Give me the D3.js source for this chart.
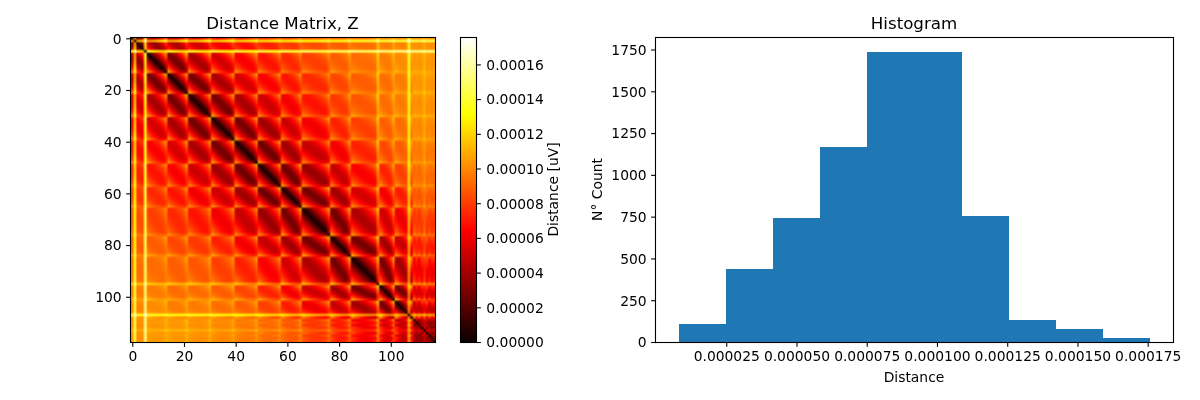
<!DOCTYPE html>
<html>
<head>
<meta charset="utf-8">
<script src="https://cdnjs.cloudflare.com/ajax/libs/d3/7.8.5/d3.min.js"></script>
<style>
  html, body { margin: 0; padding: 0; background: #fff; }
  #wrap { position: relative; width: 1200px; height: 400px; overflow: hidden; }
  canvas { position: absolute; }
  svg { position: absolute; left: 0; top: 0; }
  text { font-family: "DejaVu Sans", sans-serif; fill: #000; }
</style>
</head>
<body>
<div id="wrap"></div>
<script>
// Electrode rows: how many channels each row holds, in channel order.
const rowSizes = [6, 8, 8, 9, 9, 9, 9, 8, 11, 8, 11, 6, 7, 9];

// Estimated row-to-row distance (1e-6 uV), lower triangle, one line per row.
const rowLevels = [
  [12],
  [35, 0],
  [42, 26, 0],
  [52, 40, 26, 0],
  [60, 52, 40, 26, 0],
  [66, 62, 52, 40, 26, 0],
  [72, 68, 62, 50, 38, 24, 0],
  [78, 74, 68, 60, 50, 38, 24, 0],
  [84, 80, 74, 68, 60, 48, 36, 26, 0],
  [88, 88, 82, 78, 72, 60, 48, 38, 26, 0],
  [92, 92, 88, 86, 80, 72, 62, 52, 42, 26, 0],
  [96, 96, 92, 92, 88, 82, 72, 60, 50, 38, 26, 0],
  [98, 100, 96, 96, 92, 88, 80, 70, 58, 48, 38, 24, 0],
  [100, 102, 102, 100, 98, 94, 90, 85, 76, 68, 58, 50, 42, 20]
];

// Estimated spread across a row pair (per unit of alongRow), by row separation.
const spreadByGap = [48, 48, 44, 41, 38, 34, 30, 28, 25, 22, 22, 20, 20, 20];

// Estimated position of each channel along its row, from -1 to 1.
const alongRow = [
  -0.5, -0.9, -0.3, 0, 0.3, 0.6,
  -1, -0.72, -0.43, -0.14, 0.14, 0.43, 0.72, 1,
  -1, -0.7, -0.42, -0.14, 0.14, 0.42, 0.72, 1,
  -1, -0.75, -0.5, -0.25, 0, 0.25, 0.5, 0.75, 1,
  -1, -0.76, -0.5, -0.25, 0, 0.25, 0.5, 0.76, 1,
  -1, -0.75, -0.5, -0.25, 0, 0.25, 0.5, 0.75, 1,
  -1, -0.75, -0.5, -0.25, 0, 0.25, 0.5, 0.75, 1,
  -1, -0.72, -0.43, -0.14, 0.14, 0.43, 0.72, 1,
  -1, -0.8, -0.6, -0.4, -0.2, 0, 0.2, 0.4, 0.6, 0.8, 1,
  -1, -0.72, -0.43, -0.14, 0.14, 0.43, 0.72, 1,
  -1, -0.8, -0.6, -0.4, -0.2, 0, 0.2, 0.4, 0.6, 0.8, 1,
  -1, -0.6, -0.2, 0.2, 0.6, 1,
  -1, -0.67, -0.33, 0, 0.33, 0.67, 1,
  -0.6, 0.1, -0.4, 0.3, -0.1, 0.5, -0.2, 0.3, 0
];

// Estimated excess of each channel over its row (1e-6 uV); end-of-row
// channels and the noisy ones stand out as bright lines.
const channelExcess = [
  20, 100, 8, 6, 12, 115,
  10, 5, 4, 4, 4, 4, 5, 28,
  12, 5, 4, 4, 4, 4, 6, 32,
  10, 5, 4, 4, 4, 4, 4, 6, 36,
  10, 5, 4, 4, 4, 4, 4, 6, 30,
  8, 5, 4, 4, 4, 4, 4, 6, 30,
  8, 5, 4, 4, 4, 4, 4, 6, 28,
  8, 5, 4, 4, 4, 4, 6, 32,
  6, 4, 4, 4, 4, 4, 4, 4, 5, 8, 36,
  6, 4, 4, 4, 4, 5, 8, 38,
  6, 4, 4, 4, 4, 4, 4, 5, 6, 12, 65,
  10, 5, 5, 6, 10, 40,
  10, 6, 5, 6, 22, 90, 24,
  15, 22, 8, 18, 42, 12, 20, 8, 22
];

// Histogram of the upper-triangle distances.
const histCounts = [106, 436, 740, 1166, 1737, 1738, 752, 130, 76, 22];
const histMin = 8.2e-6;
const histMax = 175.8e-6;

const heatTicks = [0, 20, 40, 60, 80, 100];
const colorbarTicks = [0, 2e-5, 4e-5, 6e-5, 8e-5, 10e-5, 12e-5, 14e-5, 16e-5];
const histXTicks = [25e-6, 50e-6, 75e-6, 100e-6, 125e-6, 150e-6, 175e-6];
const histYTicks = [0, 250, 500, 750, 1000, 1250, 1500, 1750];

// Row index of each channel.
const rowOf = rowSizes.flatMap((n, r) => d3.range(n).map(() => r));
const level = (a, b) => a >= b ? rowLevels[a][b] : rowLevels[b][a];

// Pairwise distance between channels, built from the tables above.
function distance(i, j) {
  if (i === j) return 0;
  const gap = Math.abs(rowOf[i] - rowOf[j]);
  const du = spreadByGap[gap] * (alongRow[i] - alongRow[j]);
  const base = level(rowOf[i], rowOf[j]);
  const wi = channelExcess[i], wj = channelExcess[j];
  return 1e-6 * Math.sqrt(base * base + du * du + wi * wi + wj * wj);
}

// matplotlib "hot" colormap.
const hot = d3.scaleLinear()
  .domain([0, 0.365079, 0.746032, 1].map(t => t * histMax))
  .range(["rgb(11,0,0)", "rgb(255,0,0)", "rgb(255,255,0)", "rgb(255,255,255)"])
  .clamp(true);

const channels = d3.range(alongRow.length);
const wrap = d3.select("#wrap");

const heat = { left: 131, right: 436, top: 37, bottom: 342 };
const bar  = { left: 461, right: 477, top: 37, bottom: 342 };
const hist = { left: 656, right: 1174, top: 37, bottom: 342 };

// Heatmap: one canvas pixel per cell, scaled up with smoothing by the browser.
const cv = wrap.append("canvas")
  .attr("width", channels.length).attr("height", channels.length)
  .style("left", heat.left + "px").style("top", heat.top + "px")
  .style("width", (heat.right - heat.left) + "px")
  .style("height", (heat.bottom - heat.top) + "px");
const ctx = cv.node().getContext("2d");
channels.forEach(i => channels.forEach(j => {
  ctx.fillStyle = hot(distance(i, j));
  ctx.fillRect(j, i, 1, 1);
}));

const svg = wrap.append("svg").attr("width", 1200).attr("height", 400);

function styleAxis(g) {
  g.selectAll("text").style("font-size", "13.89px").attr("fill", "#000");
  g.selectAll(".tick line").attr("stroke", "#000").attr("stroke-width", 1.1);
  g.select(".domain").remove();
}
const centreLabels = g => g.selectAll("text").attr("dy", "0.35em");
function frame(box) {
  svg.append("rect")
    .attr("x", box.left - 0.5).attr("y", box.top + 0.5)
    .attr("width", box.right - box.left).attr("height", box.bottom - box.top)
    .attr("fill", "none").attr("stroke", "#000").attr("stroke-width", 1.1);
}
function label(x, y, txt, size, rot) {
  const t = svg.append("text").attr("text-anchor", "middle")
    .style("font-size", size + "px").text(txt);
  if (rot) t.attr("transform", `translate(${x},${y}) rotate(-90)`);
  else t.attr("x", x).attr("y", y);
}

// Heatmap axes
const hx = d3.scaleLinear().domain([-0.5, 117.5]).range([heat.left, heat.right]);
const hy = d3.scaleLinear().domain([-0.5, 117.5]).range([heat.top, heat.bottom]);
svg.append("g").attr("transform", `translate(0,${heat.bottom})`)
  .call(d3.axisBottom(hx).tickValues(heatTicks).tickSize(4.86).tickPadding(4.5).tickFormat(d3.format("d")))
  .call(styleAxis);
svg.append("g").attr("transform", `translate(${heat.left},0)`)
  .call(d3.axisLeft(hy).tickValues(heatTicks).tickSize(4.86).tickPadding(4.5).tickFormat(d3.format("d")))
  .call(styleAxis).call(centreLabels);
frame(heat);
label((heat.left + heat.right) / 2 - 1, 29, "Distance Matrix, Z", 16.67);

// Colorbar
const cy = d3.scaleLinear().domain([0, histMax]).range([bar.bottom, bar.top]);
const grad = svg.append("defs").append("linearGradient")
  .attr("id", "hotRamp").attr("x1", 0).attr("y1", 1).attr("x2", 0).attr("y2", 0);
hot.domain().forEach(v => {
  grad.append("stop").attr("offset", v / histMax).attr("stop-color", hot(v));
});
svg.append("rect")
  .attr("x", bar.left).attr("y", bar.top)
  .attr("width", bar.right - bar.left - 1).attr("height", bar.bottom - bar.top)
  .attr("fill", "url(#hotRamp)");
svg.append("g").attr("transform", `translate(${bar.right - 1},0)`)
  .call(d3.axisRight(cy).tickValues(colorbarTicks).tickSize(4.86).tickPadding(5.5).tickFormat(d3.format(".5f")))
  .call(styleAxis).call(centreLabels);
frame(bar);
label(558, (bar.top + bar.bottom) / 2, "Distance [uV]", 13.89, true);

// Histogram
const binWidth = (histMax - histMin) / histCounts.length;
const pad = (histMax - histMin) * 0.05;
const x = d3.scaleLinear().domain([histMin - pad, histMax + pad]).range([hist.left - 0.5, hist.right - 0.5]);
const y = d3.scaleLinear().domain([0, d3.max(histCounts) * 1.05]).range([hist.bottom, hist.top]);
svg.append("g").selectAll("rect").data(histCounts).join("rect")
  .attr("x", (d, i) => x(histMin + i * binWidth))
  .attr("width", x(histMin + binWidth) - x(histMin))
  .attr("y", d => y(d))
  .attr("height", d => y(0) - y(d))
  .attr("fill", "#1f77b4")
  .attr("shape-rendering", "crispEdges");
svg.append("g").attr("transform", `translate(0,${hist.bottom})`)
  .call(d3.axisBottom(x).tickValues(histXTicks).tickSize(4.86).tickPadding(4.5).tickFormat(d3.format(".6f")))
  .call(styleAxis);
svg.append("g").attr("transform", `translate(${hist.left},0)`)
  .call(d3.axisLeft(y).tickValues(histYTicks).tickSize(4.86).tickPadding(4.5).tickFormat(d3.format("d")))
  .call(styleAxis).call(centreLabels);
frame(hist);
label((hist.left + hist.right) / 2 - 1, 29, "Histogram", 16.67);
label((hist.left + hist.right) / 2 - 1, 382, "Distance", 13.89);
label(602, (hist.top + hist.bottom) / 2, "N° Count", 13.89, true);
</script>
</body>
</html>
